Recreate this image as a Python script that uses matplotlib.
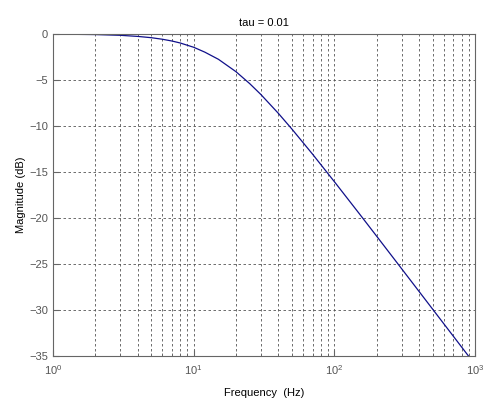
import matplotlib
matplotlib.use('Agg')
import matplotlib.pyplot as plt

# Valores (resposta em magnitude, tau = 0.01)
freq_hz = [1, 2, 3, 4, 5, 6, 7, 8, 10, 12, 15, 20, 25, 30, 40, 50, 70,
           100, 150, 200, 300, 500, 700, 1000]
mag_db = [-0.02, -0.07, -0.15, -0.27, -0.41, -0.58, -0.77, -0.98, -1.45,
          -1.98, -2.76, -4.11, -5.40, -6.58, -8.64, -10.36, -13.08,
          -16.07, -19.53, -22.01, -25.52, -29.95, -32.87, -35.97]

plt.rcParams['font.family'] = ['Liberation Sans', 'DejaVu Sans']
plt.rcParams['mathtext.default'] = 'regular'

fig = plt.figure(figsize=(4.94, 3.99), dpi=100)
ax = fig.add_axes([0.107, 0.108, 0.855, 0.807])

ax.semilogx(freq_hz, mag_db, color='#10108a', linewidth=0.9)
ax.set_xlim(1, 1000)
ax.set_ylim(-35, 0)
ax.set_yticks(range(-35, 1, 5))

# grade tracejada estilo MATLAB
ax.grid(True, which='both', axis='x', color='#555555', linestyle=(0, (3, 3)), linewidth=0.6)
ax.grid(True, which='major', axis='y', color='#555555', linestyle=(0, (3, 3)), linewidth=0.6)

for s in ax.spines.values():
    s.set_color('#666666')
ax.tick_params(which='both', direction='in', colors='#666666', labelcolor='#555555', labelsize=8)
ax.tick_params(which='major', length=4)
ax.tick_params(which='minor', length=2)
ax.tick_params(axis='x', pad=5)

ax.set_title('tau = 0.01', fontsize=8, pad=6)
ax.set_xlabel('Frequency  (Hz)', fontsize=8, labelpad=8)
ax.set_ylabel('Magnitude (dB)', fontsize=8, labelpad=2)

plt.savefig('out.png', dpi=100)
